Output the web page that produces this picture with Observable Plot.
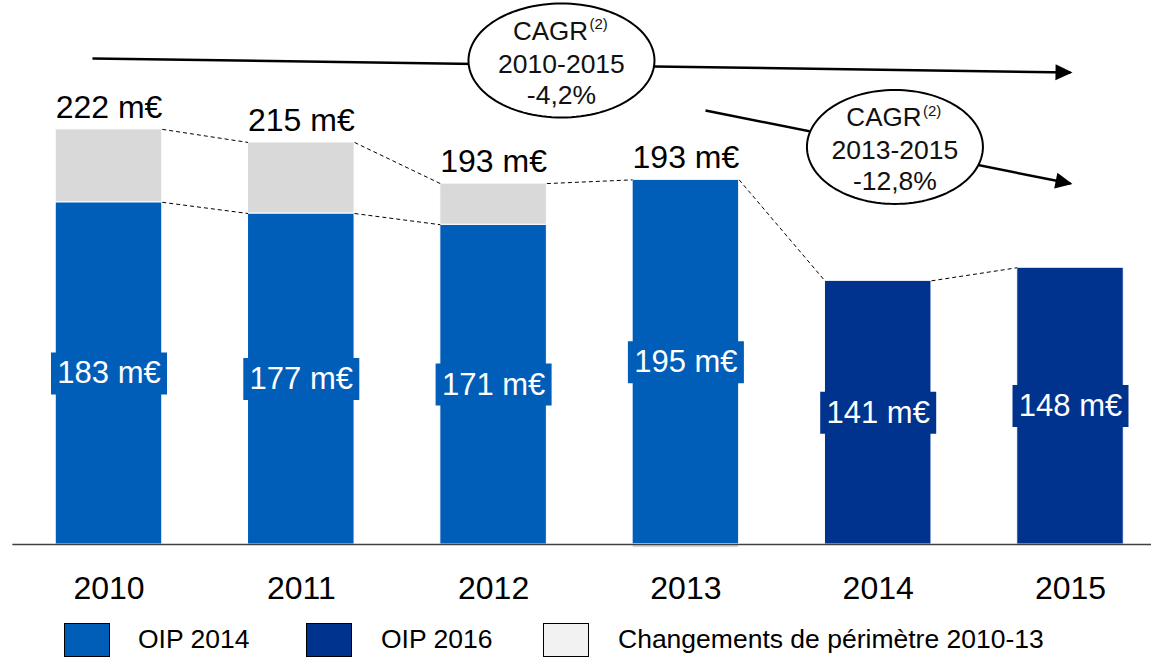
<!DOCTYPE html>
<html>
<head>
<meta charset="utf-8">
<script src="https://cdn.jsdelivr.net/npm/d3@7"></script>
<script src="https://cdn.jsdelivr.net/npm/@observablehq/plot@0.6"></script>
<style>
  html, body { margin: 0; padding: 0; background: #fff; }
  #wrap { width: 1151px; font-family: 'Liberation Sans', Arial, sans-serif; }
  #legend { position: relative; width: 1151px; height: 48px; font-size: 26.5px; color: #000; }
  .item { position: absolute; top: 12px; height: 35px; display: flex; align-items: center; }
  .sw { width: 46px; height: 34px; box-sizing: border-box; border: 1px solid #000; }
</style>
</head>
<body>
<div id="wrap">
  <div id="chart"></div>
  <div id="legend"></div>
</div>
<script>
// ---- Data ----
const years = [2010, 2011, 2012, 2013, 2014, 2015];
const oip2014 = [183, 177, 171, 195, null, null];
const oip2016 = [null, null, null, null, 141, 148];
const perimetre = [39, 38, 22, -2, 0, 0];
const totals = [222, 215, 193, 193, null, null];
const seriesNames = ["OIP 2014", "OIP 2016", "Changements de périmètre 2010-13"];
const seriesColors = ["#005EB8", "#00338D", "#D9D9D9"];
const legendColors = ["#005EB8", "#00338D", "#F2F2F2"];

// CAGR annotations (in data units: year, m€)
const cagrTitle = ["CAGR", "CAGR"];
const cagrPeriods = ["2010-2015", "2013-2015"];
const cagrRates = ["-4,2%", "-12,8%"];
const cagrX = [2012.353, 2014.087];
const cagrY = [258.8, 212.6];
const trendX1 = [2009.914, 2013.102];
const trendY1 = [259.9, 232.1];
const trendX2 = [2015.0, 2015.0];
const trendY2 = [252.4, 193.0];

// ---- Layout constants ----
const HW = 0.277;               // half bar width in years
const X0 = 2009.4358, X1 = 2015.4212;
const Y1 = 290.91;
const FONT = "'Liberation Sans', Arial, sans-serif";

// ---- Derived tables ----
const base = years.map((year, i) => {
  const isOld = oip2014[i] != null;
  return {year, series: isOld ? seriesNames[0] : seriesNames[1], value: isOld ? oip2014[i] : oip2016[i], perim: perimetre[i], total: totals[i]};
});
const rects = [];
base.forEach(d => {
  rects.push({year: d.year, series: d.series, y1: 0, y2: d.value});
  if (d.perim > 0) rects.push({year: d.year, series: seriesNames[2], y1: d.value, y2: d.value + d.perim});
  else if (d.perim < 0) rects.push({year: d.year, series: seriesNames[2], y1: 0, y2: d.perim});
});
const stackTop = base.map(d => Math.max(d.value, d.value + d.perim));
const links = [];
for (let i = 0; i < years.length - 1; i++) {
  links.push({x1: years[i] + HW, y1: stackTop[i], x2: years[i + 1] - HW, y2: stackTop[i + 1]});
}
for (let i = 0; i < 2; i++) {
  links.push({x1: years[i] + HW, y1: base[i].value, x2: years[i + 1] - HW, y2: base[i + 1].value});
}
const topLabels = base.map((d, i) => ({year: d.year, total: d.total, y: stackTop[i]})).filter(d => d.total != null);
const cagr = cagrX.map((x, i) => ({x, y: cagrY[i], title: cagrTitle[i], period: cagrPeriods[i], rate: cagrRates[i]}));
const trends = trendX1.map((x1, i) => ({x1, y1: trendY1[i], x2: trendX2[i], y2: trendY2[i]}));

// ---- Custom symbols ----
const boxSymbol = {draw(ctx) { ctx.rect(-58, -21, 116, 42); }};
function ellipseSymbol(rx, ry) {
  return {draw(ctx) {
    const n = 120;
    for (let k = 0; k <= n; k++) {
      const a = (k / n) * 2 * Math.PI;
      const px = rx * Math.cos(a), py = ry * Math.sin(a);
      if (k === 0) ctx.moveTo(px, py); else ctx.lineTo(px, py);
    }
    ctx.closePath();
  }};
}
function headSymbol(deg) {
  const a = deg * Math.PI / 180, c = Math.cos(a), s = Math.sin(a);
  const pts = [[2, 0], [-15, -8], [-15, 8]].map(([px, py]) => [px * c - py * s, px * s + py * c]);
  return {draw(ctx) {
    ctx.moveTo(pts[0][0], pts[0][1]);
    ctx.lineTo(pts[1][0], pts[1][1]);
    ctx.lineTo(pts[2][0], pts[2][1]);
    ctx.closePath();
  }};
}

const chart = Plot.plot({
  width: 1151,
  height: 610,
  marginLeft: 0,
  marginRight: 0,
  marginTop: 0,
  marginBottom: 66,
  style: {fontFamily: FONT, background: "white", color: "#000", overflow: "visible"},
  x: {domain: [X0, X1], axis: null},
  y: {domain: [0, Y1], axis: null},
  color: {domain: seriesNames, range: seriesColors},
  marks: [
    Plot.rect(rects, {x1: d => d.year - HW, x2: d => d.year + HW, y1: "y1", y2: "y2", fill: "series", stroke: "white", strokeWidth: 1}),
    Plot.ruleY([0], {x1: 2009.5, x2: X1, stroke: "#404040", strokeWidth: 1.5}),
    Plot.link(links, {x1: "x1", y1: "y1", x2: "x2", y2: "y2", stroke: "#000", strokeWidth: 1, strokeDasharray: "4,3"}),
    // labels inside bars
    Plot.dot(base, {x: "year", y: d => d.value / 2, symbol: boxSymbol, fill: "series", stroke: "none"}),
    Plot.text(base, {x: "year", y: d => d.value / 2, text: d => `${d.value} m€`, fill: "white", fontSize: 31}),
    // totals on top
    Plot.text(topLabels, {x: "year", y: "y", text: d => `${d.total} m€`, fill: "#000", fontSize: 32, dy: -22}),
    // year labels
    Plot.text(years, {x: d => d, y: 0, text: d => String(d), fill: "#000", fontSize: 32, dy: 44}),
    // trend arrows
    Plot.link(trends, {x1: "x1", y1: "y1", x2: "x2", y2: "y2", stroke: "#000", strokeWidth: 2.5}),
    Plot.dot([trends[0]], {x: "x2", y: "y2", symbol: headSymbol(0.82), fill: "#000", stroke: "none"}),
    Plot.dot([trends[1]], {x: "x2", y: "y2", symbol: headSymbol(11.3), fill: "#000", stroke: "none"}),
    // CAGR ellipses
    Plot.dot([cagr[0]], {x: "x", y: "y", symbol: ellipseSymbol(93, 57), fill: "white", stroke: "#000", strokeWidth: 2}),
    Plot.dot([cagr[1]], {x: "x", y: "y", symbol: ellipseSymbol(88, 57), fill: "white", stroke: "#000", strokeWidth: 2}),
    Plot.text(cagr, {x: "x", y: "y", text: "title", fontSize: 26, fill: "#111", dx: -11, dy: -29}),
    Plot.text(cagr, {x: "x", y: "y", text: () => "(2)", fontSize: 15, fill: "#111", textAnchor: "start", dx: 28, dy: -36}),
    Plot.text(cagr, {x: "x", y: "y", text: "period", fontSize: 26.5, fill: "#111", dy: 4}),
    Plot.text(cagr, {x: "x", y: "y", text: "rate", fontSize: 26.5, fill: "#111", dy: 35})
  ]
});
document.getElementById("chart").appendChild(chart);

// ---- Legend ----
const legendLeft = [64, 306, 543];
const legend = document.getElementById("legend");
seriesNames.forEach((name, i) => {
  const item = document.createElement("div");
  item.className = "item";
  item.style.left = legendLeft[i] + "px";
  const sw = document.createElement("div");
  sw.className = "sw";
  sw.style.background = legendColors[i];
  const lab = document.createElement("span");
  lab.textContent = name;
  lab.style.marginLeft = (i === 0 ? 28 : 29) + "px";
  lab.style.whiteSpace = "nowrap";
  item.appendChild(sw);
  item.appendChild(lab);
  legend.appendChild(item);
});
</script>
</body>
</html>
